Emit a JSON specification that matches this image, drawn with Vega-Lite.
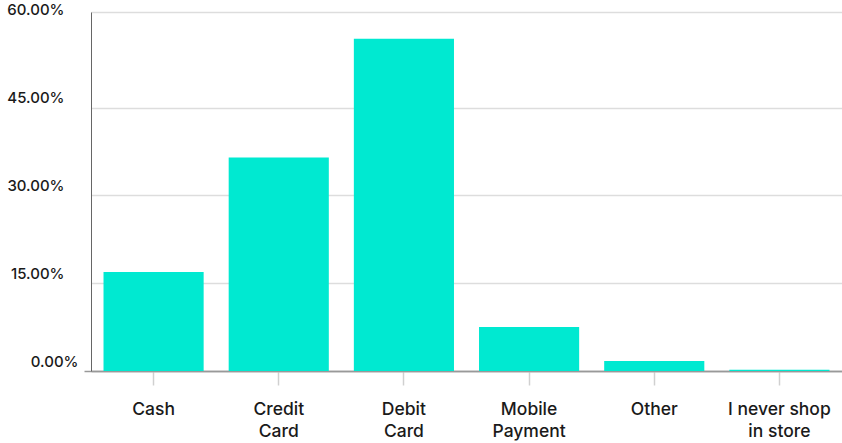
{
  "$schema": "https://vega.github.io/schema/vega-lite/v6.json",
  "width": 751,
  "height": 359,
  "autosize": "none",
  "padding": {"left": 91, "top": 12, "right": 0, "bottom": 72},
  "background": "white",
  "config": {"view": {"stroke": null}, "font": "Inter"},
  "data": {
    "values": [
      {"method": "Cash", "share": 0.1692},
      {"method": "Credit Card", "share": 0.3649},
      {"method": "Debit Card", "share": 0.5678},
      {"method": "Mobile Payment", "share": 0.075},
      {"method": "Other", "share": 0.017},
      {"method": "I never shop in store", "share": 0.002}
    ]
  },
  "mark": {"type": "bar", "color": "#00E9D1"},
  "encoding": {
    "x": {
      "field": "method",
      "type": "nominal",
      "sort": null,
      "scale": {"paddingInner": 0.2, "paddingOuter": 0.1},
      "axis": {
        "title": null,
        "labelAngle": 0,
        "labelFontSize": 17.5,
        "labelFontWeight": 500,
        "labelColor": "#1a1a1a",
        "labelPadding": 15,
        "labelLineHeight": 22,
        "labelExpr": "datum.label == 'I never shop in store' ? ['I never shop', 'in store'] : split(datum.label, ' ')",
        "tickSize": 14,
        "tickColor": "#d0d0d0",
        "tickWidth": 1.5,
        "domainColor": "#999999",
        "domainWidth": 1.5
      }
    },
    "y": {
      "field": "share",
      "type": "quantitative",
      "scale": {"domain": [0, 0.6136], "nice": false},
      "axis": {
        "title": null,
        "values": [0, 0.15, 0.3, 0.45, 0.6, 0.6136],
        "format": ".2%",
        "labelExpr": "datum.value > 0.61 ? '' : datum.label",
        "labelFontSize": 15,
        "labelFontWeight": 500,
        "labelColor": "#1a1a1a",
        "labelPadding": {"condition": {"test": "datum.value == 0", "value": 6}, "value": 7},
        "labelBaseline": "bottom",
        "labelOffset": -2,
        "labelOverlap": false,
        "tickSize": {"condition": {"test": "datum.value == 0", "value": 7}, "value": 20},
        "tickColor": {"condition": {"test": "datum.value == 0", "value": "#999999"}, "value": {"expr": "'#dddddd'"}},
        "tickOpacity": {"condition": {"test": "datum.value == 0.6", "value": 0}, "value": 1},
        "tickWidth": 1.5,
        "grid": true,
        "gridColor": {"condition": {"test": "datum.value == 0", "value": "#999999"}, "value": "#dddddd"},
        "gridOpacity": {"condition": {"test": "datum.value == 0.6", "value": 0}, "value": 1},
        "gridWidth": 1.5,
        "domainColor": "#666666",
        "domainWidth": 1
      }
    }
  }
}
